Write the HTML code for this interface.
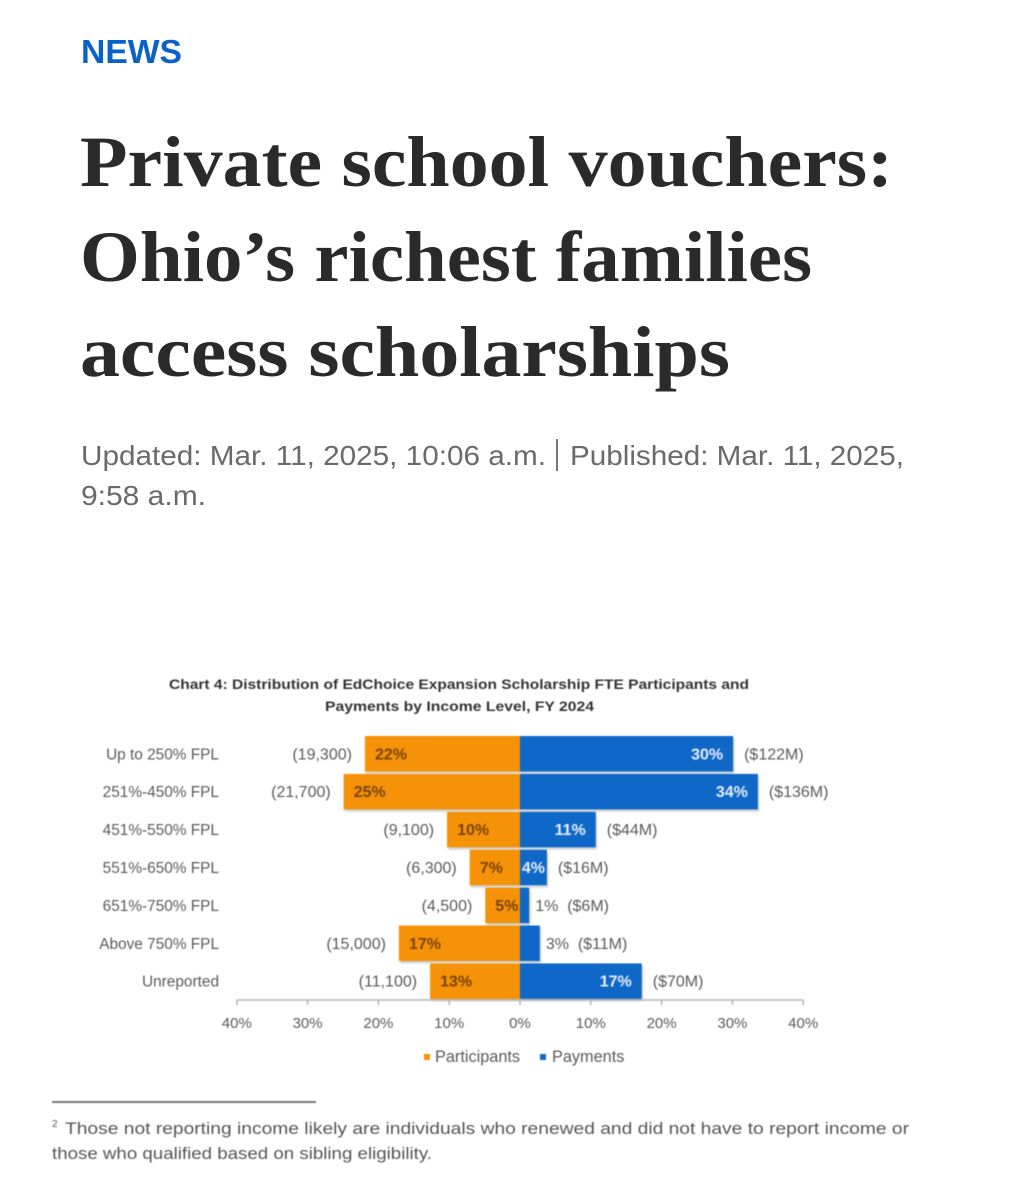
<!DOCTYPE html>
<html lang="en">
<head>
<meta charset="utf-8">
<title>Private school vouchers: Ohio's richest families access scholarships</title>
<style>
html,body{margin:0;padding:0;background:#fff;width:1012px;height:1200px;overflow:hidden}
svg{display:block;position:absolute;left:0;top:0}
.sans{font-family:"Liberation Sans",sans-serif}
.serif{font-family:"Liberation Serif",serif}
.headline{font-size:72px;font-weight:700;fill:#2a2a2a}
.dateline{font-size:28px;fill:#6a6a6a}
#chart-layer{filter:blur(.5px)}
#chart-layer text{font-family:"Liberation Sans",sans-serif;font-size:16px;fill:#5a5a5a}
#chart-layer .chart-title{font-size:14px;font-weight:700;fill:#333}
#chart-layer .category-text{font-size:15.4px}
#chart-layer .tick-text{font-size:15px}
#chart-layer .legend-text{font-size:16.3px}
#chart-layer .pct-in-orange{font-weight:700;fill:#7a4300}
#chart-layer .pct-in-blue{font-weight:700;fill:#e6eefa}
#chart-layer .footnote{font-size:16.5px;fill:#555}
#chart-layer .footnote-mark{font-size:10px;fill:#555}
.bar{filter:drop-shadow(1px 2px 1px rgba(0,0,0,.22))}
</style>
</head>
<body>
<svg id="page" width="1012" height="1200" viewBox="0 0 1012 1200" xmlns="http://www.w3.org/2000/svg">
  <text class="sans" x="81" y="63" font-size="33" font-weight="700" fill="#0a62c9" textLength="101" lengthAdjust="spacingAndGlyphs">NEWS</text>

  <text class="serif headline" x="80" y="186" textLength="813" lengthAdjust="spacingAndGlyphs">Private school vouchers:</text>
  <text class="serif headline" x="80" y="281" textLength="732" lengthAdjust="spacingAndGlyphs">Ohio’s richest families</text>
  <text class="serif headline" x="80" y="376" textLength="650" lengthAdjust="spacingAndGlyphs">access scholarships</text>

  <text class="sans dateline" x="81" y="465" textLength="465" lengthAdjust="spacingAndGlyphs">Updated: Mar. 11, 2025, 10:06 a.m.</text>
  <rect x="556" y="439" width="2" height="32" fill="#777"/>
  <text class="sans dateline" x="570" y="465" textLength="334" lengthAdjust="spacingAndGlyphs">Published: Mar. 11, 2025,</text>
  <text class="sans dateline" x="81" y="505" textLength="125" lengthAdjust="spacingAndGlyphs">9:58 a.m.</text>

  <g id="chart-layer">
    <text class="chart-title" x="169" y="689" textLength="580" lengthAdjust="spacingAndGlyphs">Chart 4: Distribution of EdChoice Expansion Scholarship FTE Participants and</text>
    <text class="chart-title" x="325" y="711" textLength="269" lengthAdjust="spacingAndGlyphs">Payments by Income Level, FY 2024</text>
    <g id="bars"></g>
    <g id="labels"></g>
    <g id="axis"></g>
    <g id="legend"></g>
    <rect x="52" y="1101" width="264" height="2" fill="#777"/>
    <text class="footnote-mark" x="52" y="1127">2</text>
    <text class="footnote" x="65" y="1134" textLength="844" lengthAdjust="spacingAndGlyphs">Those not reporting income likely are individuals who renewed and did not have to report income or</text>
    <text class="footnote" x="52" y="1159" textLength="380" lengthAdjust="spacingAndGlyphs">those who qualified based on sibling eligibility.</text>
  </g>
</svg>
<script>
const categories = ["Up to 250% FPL", "251%-450% FPL", "451%-550% FPL", "551%-650% FPL", "651%-750% FPL", "Above 750% FPL", "Unreported"];
const participantShares = [21.9, 24.9, 10.3, 7.1, 4.9, 17.1, 12.7];
const paymentShares = [30.1, 33.6, 10.7, 3.8, 1.3, 2.8, 17.2];
const participantCounts = ["(19,300)", "(21,700)", "(9,100)", "(6,300)", "(4,500)", "(15,000)", "(11,100)"];
const paymentAmounts = ["($122M)", "($136M)", "($44M)", "($16M)", "($6M)", "($11M)", "($70M)"];
const tickValues = [-40, -30, -20, -10, 0, 10, 20, 30, 40];
const seriesNames = ["Participants", "Payments"];

const NS = "http://www.w3.org/2000/svg";
const ORANGE = "#f59207";
const BLUE = "#0f68c7";
const xScale = function (v) { return 520 + v * 7.08; };
const rowTop = function (i) { return 736 + i * 37.9; };
const ROW_H = 35.5;

function make(parent, tag, attrs, content) {
  const el = document.createElementNS(NS, tag);
  for (const k in attrs) el.setAttribute(k, attrs[k]);
  if (content !== undefined) el.textContent = content;
  parent.appendChild(el);
  return el;
}

const barsG = document.getElementById("bars");
const labelsG = document.getElementById("labels");
const axisG = document.getElementById("axis");
const legendG = document.getElementById("legend");

categories.forEach(function (cat, i) {
  const top = rowTop(i);
  const mid = top + ROW_H / 2;
  const base = mid + 5.5;
  const left = xScale(-participantShares[i]);
  const right = xScale(paymentShares[i]);
  const zero = xScale(0);

  const catLabel = make(labelsG, "text", { class: "category-text", x: 219, y: base, "text-anchor": "end" }, cat);
  
  

  const pBar = make(barsG, "rect", { class: "bar", x: left, y: top, width: zero - left, height: ROW_H, fill: ORANGE });
  
  

  const payBar = make(barsG, "rect", { class: "bar", x: zero, y: top, width: right - zero, height: ROW_H, fill: BLUE });
  
  

  const pCount = make(labelsG, "text", { x: left - 13, y: base, "text-anchor": "end" }, participantCounts[i]);
  
  

  const pPct = make(labelsG, "text", { class: "pct-in-orange", x: left + 10, y: base }, Math.round(participantShares[i]) + "%");
  
  

  const outside = paymentShares[i] <= 3;
  let amountX = right + 11;
  if (outside) {
    const payPctOut = make(labelsG, "text", { x: right + 6, y: base }, Math.round(paymentShares[i]) + "%");
    
    
    amountX = right + 38;
  } else {
    const payPctIn = make(labelsG, "text", { class: "pct-in-blue", x: Math.max(right - 10, zero + 25), y: base, "text-anchor": "end" }, Math.round(paymentShares[i]) + "%");
    
    
  }

  const amount = make(labelsG, "text", { x: amountX, y: base }, paymentAmounts[i]);
  
  
});

const axisLine = make(axisG, "line", { x1: xScale(-40), x2: xScale(40), y1: 1000, y2: 1000, stroke: "#b5b5b5", "stroke-width": 1.5 });



tickValues.forEach(function (t) {
  const tick = make(axisG, "line", { x1: xScale(t), x2: xScale(t), y1: 1000, y2: 1005, stroke: "#b5b5b5", "stroke-width": 1.5 });
  
  
  const lab = make(axisG, "text", { class: "tick-text", x: xScale(t), y: 1028, "text-anchor": "middle" }, Math.abs(t) + "%");
  
  
});

const swatchP = make(legendG, "rect", { x: 424, y: 1054, width: 6, height: 6, fill: ORANGE });


const legP = make(legendG, "text", { class: "legend-text", x: 435, y: 1062 }, seriesNames[0]);


const swatchB = make(legendG, "rect", { x: 540, y: 1054, width: 6, height: 6, fill: BLUE });


const legB = make(legendG, "text", { class: "legend-text", x: 552, y: 1062 }, seriesNames[1]);


</script>
</body>
</html>
